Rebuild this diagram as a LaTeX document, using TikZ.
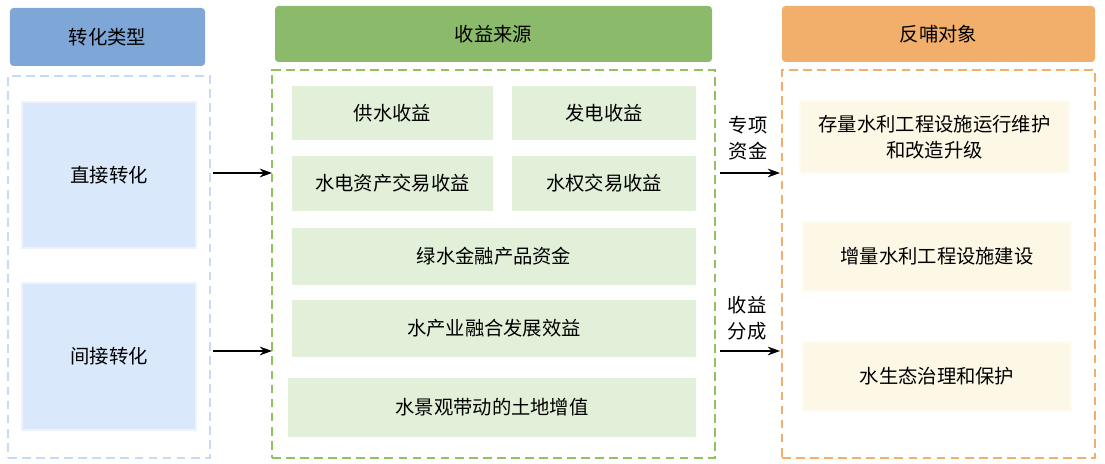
\documentclass[tikz,border=0pt]{standalone}
\usepackage{fontspec}
\setmainfont{Noto Sans CJK SC}
\usetikzlibrary{arrows.meta}
\definecolor{hblue}{HTML}{7EA6D6}
\definecolor{hgreen}{HTML}{8BBB6A}
\definecolor{horange}{HTML}{F2AE6B}
\definecolor{lblue}{HTML}{DAE8FC}
\definecolor{lgreen}{HTML}{E2F0D9}
\definecolor{lcream}{HTML}{FDF8E6}
\tikzset{
  head/.style={rectangle, rounded corners=2pt, text=black},
  item/.style={rectangle, draw=white, line width=1.5pt},
  frame/.style={rectangle, dashed, line width=1.2pt, dash pattern=on 5pt off 3pt},
  arr/.style={-{Stealth[length=7pt,width=5pt]}, line width=0.8pt}
}
\begin{document}
\begin{tikzpicture}[font=\fontsize{11}{15}\selectfont]
\useasboundingbox (0,0) rectangle (22.1,9.28);
% headers
\node[head, fill=hblue, minimum width=3.9cm, minimum height=1.16cm] (h1) at (2.15,8.54) {转化类型};
\node[head, fill=hgreen, minimum width=8.74cm, minimum height=1.12cm] (h2) at (9.87,8.60) {收益来源};
\node[head, fill=horange, minimum width=6.26cm, minimum height=1.12cm] (h3) at (18.77,8.60) {反哺对象};
% dashed frames
\node[frame, draw=lblue!80!hblue, minimum width=4.04cm, minimum height=7.64cm] (f1) at (2.18,3.94) {};
\node[frame, draw=hgreen!90!lime, minimum width=8.86cm, minimum height=7.76cm] (f2) at (9.87,4.00) {};
\node[frame, draw=horange, minimum width=6.26cm, minimum height=7.76cm] (f3) at (18.77,4.00) {};
% conversion types
\node[item, fill=lblue, draw=lblue!50, minimum width=3.48cm, minimum height=2.92cm] (zj) at (2.18,5.78) {直接转化};
\node[item, fill=lblue, draw=lblue!50, minimum width=3.48cm, minimum height=2.94cm] (jj) at (2.18,2.15) {间接转化};
% income sources
\node[item, fill=lgreen, minimum width=4.06cm, minimum height=1.12cm] (gs) at (7.85,7.02) {供水收益};
\node[item, fill=lgreen, minimum width=3.72cm, minimum height=1.12cm] (fd) at (12.08,7.02) {发电收益};
\node[item, fill=lgreen, minimum width=4.06cm, minimum height=1.14cm] (sdzc) at (7.85,5.61) {水电资产交易收益};
\node[item, fill=lgreen, minimum width=3.72cm, minimum height=1.14cm] (sq) at (12.08,5.61) {水权交易收益};
\node[item, fill=lgreen, minimum width=8.12cm, minimum height=1.18cm] (ls) at (9.88,4.15) {绿水金融产品资金};
\node[item, fill=lgreen, minimum width=8.12cm, minimum height=1.18cm] (scy) at (9.88,2.71) {水产业融合发展效益};
\node[item, fill=lgreen, minimum width=8.2cm, minimum height=1.22cm] (sjg) at (9.84,1.13) {水景观带动的土地增值};
% feedback targets
\node[item, fill=lcream, draw=lcream!60, minimum width=5.38cm, minimum height=1.44cm, align=center] (cl) at (18.69,6.54) {存量水利工程设施运行维护\\和改造升级};
\node[item, fill=lcream, draw=lcream!60, minimum width=5.36cm, minimum height=1.38cm] (zl) at (18.74,4.15) {增量水利工程设施建设};
\node[item, fill=lcream, draw=lcream!60, minimum width=5.36cm, minimum height=1.38cm] (sst) at (18.74,1.75) {水生态治理和保护};
% arrows
\coordinate (a1s) at (4.26,5.82); \coordinate (a1e) at (5.44,5.82);
\coordinate (a2s) at (4.26,2.26); \coordinate (a2e) at (5.44,2.26);
\coordinate (b1s) at (14.4,5.82); \coordinate (b1e) at (15.6,5.82);
\coordinate (b2s) at (14.4,2.26); \coordinate (b2e) at (15.6,2.26);
\draw[arr] (a1s) -- (a1e);
\draw[arr] (a2s) -- (a2e);
\draw[arr] (b1s) -- (b1e);
\draw[arr] (b2s) -- (b2e);
\node[align=center] (zx) at (14.96,6.52) {专项\\资金};
\node[align=center] (sy) at (14.94,2.92) {收益\\分成};
\end{tikzpicture}
\end{document}
